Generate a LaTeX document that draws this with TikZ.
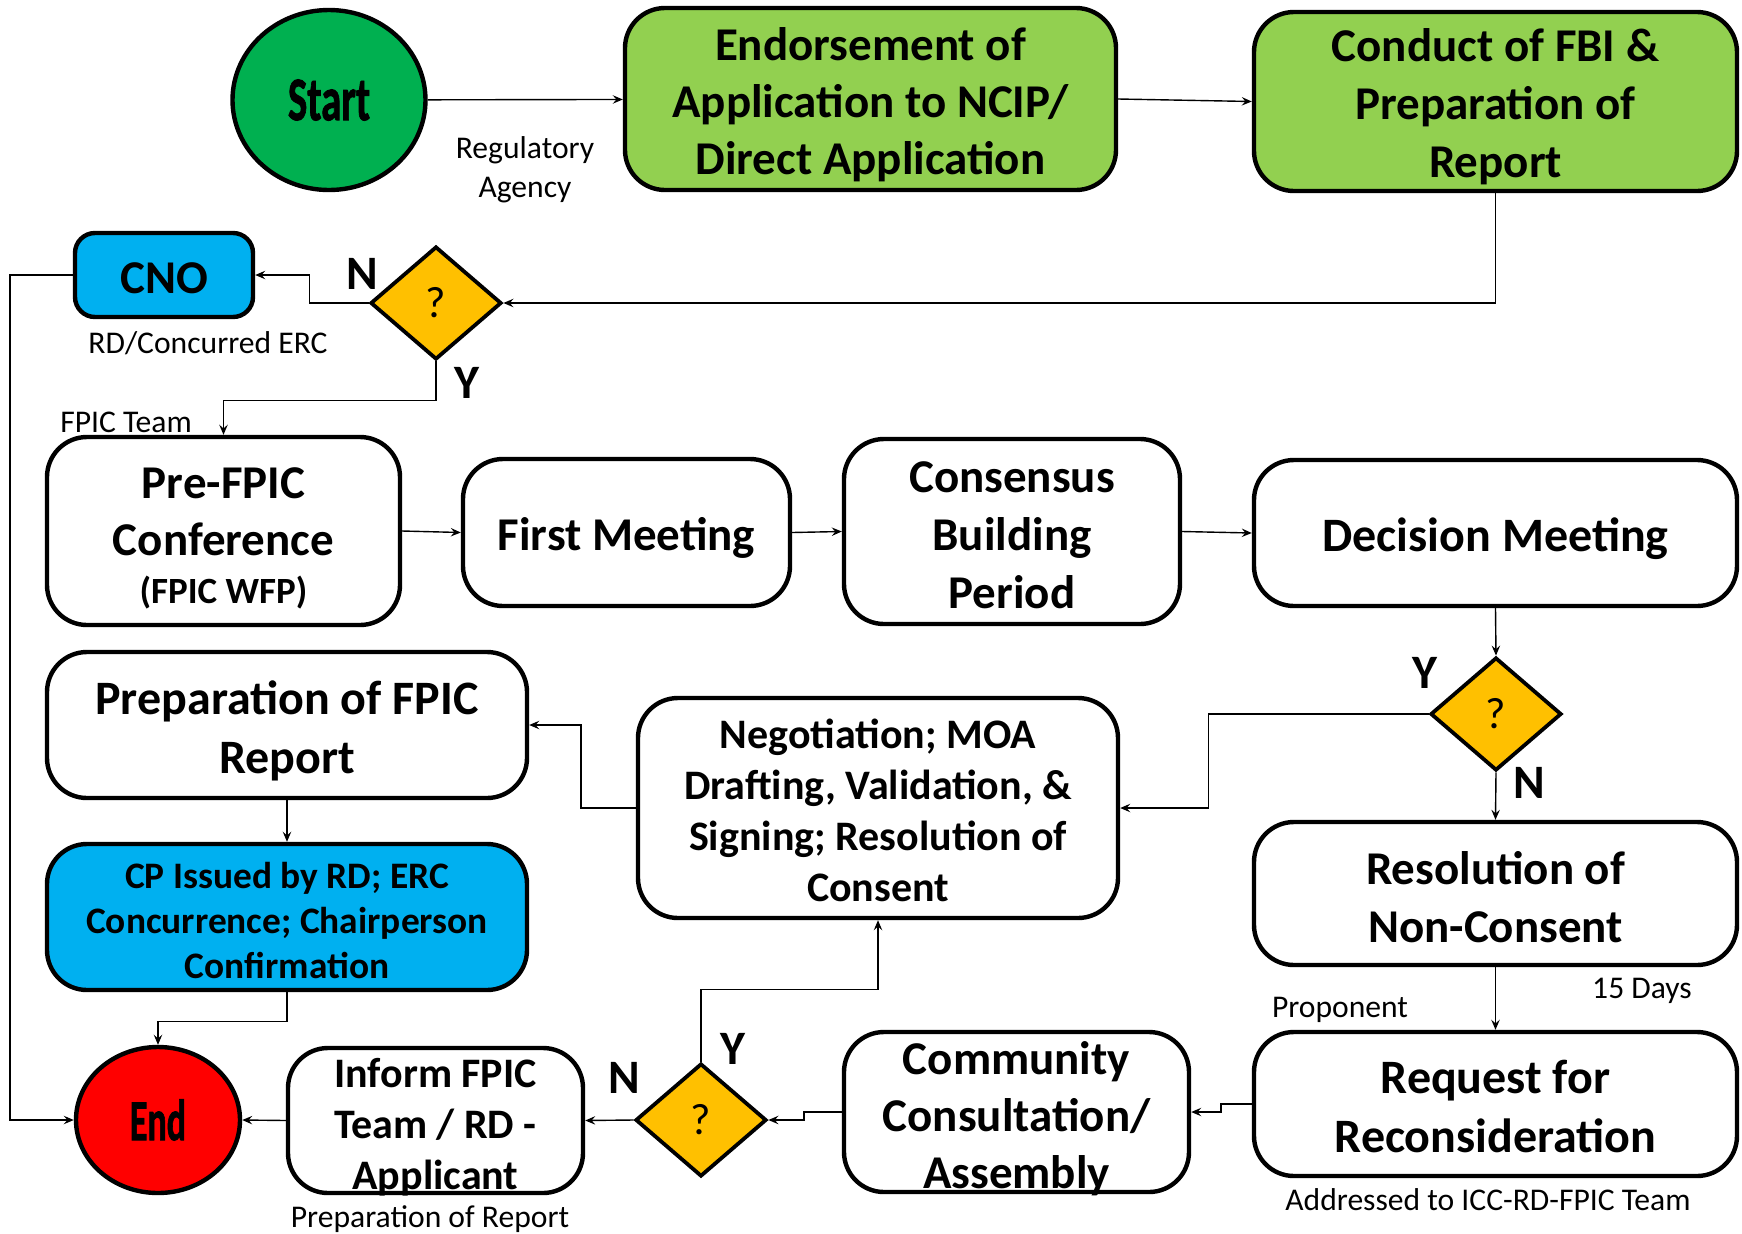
\documentclass[tikz,border=0pt]{standalone}
\usepackage{fontspec}
\setmainfont{Carlito}
\newfontfamily\heavyfont[UprightFont={* Bold}, FakeBold=1.6]{Carlito}
\usetikzlibrary{shapes.geometric,arrows.meta}
\definecolor{startgreen}{HTML}{00B050}
\definecolor{lightgreen}{HTML}{92D050}
\definecolor{cyanblue}{HTML}{00B0F0}
\definecolor{endred}{HTML}{FF0000}
\definecolor{gold}{HTML}{FFC000}
\tikzset{
  box/.style={draw=black, line width=2.2pt, rounded corners=20pt, fill=white, inner sep=0pt},
  boxtext/.style={inner sep=0pt, align=center, font=\bfseries},
  oval/.style={draw=black, line width=2.2pt, ellipse, inner sep=0pt},
  decision/.style={draw=black, line width=1.9pt, diamond, fill=gold, inner sep=0pt, minimum width=65.5pt, minimum height=56.5pt, font=\fontsize{22}{22}\selectfont},
  conn/.style={line width=0.7pt, -{Stealth[length=5pt,width=4.2pt,inset=1.8pt]}},
  note/.style={inner sep=0pt, align=center, font=\fontsize{15.8}{19.5}\selectfont},
  yn/.style={inner sep=0pt, font=\bfseries\fontsize{24}{24}\selectfont},
}
\begin{document}
\begin{tikzpicture}[x=0.5pt, y=-0.5pt]
\useasboundingbox (0,0) rectangle (1742,1233);

% row 1
\node[oval, fill=startgreen, minimum width=96.5pt, minimum height=90pt] (start) at (329,100)
  {\scalebox{0.66}[1]{\heavyfont\fontsize{31}{31}\selectfont Start}};
\node[box, fill=lightgreen, minimum width=245.5pt, minimum height=91pt] (endorse) at (870.5,99) {};
\node[boxtext, font=\bfseries\fontsize{23.5}{28.5}\selectfont] (endorsetext) at (870.5,104.5)
  {Endorsement of\\Application to NCIP/\\Direct Application};
\node[box, fill=lightgreen, minimum width=241.5pt, minimum height=89.5pt] (conduct) at (1495.5,101.5) {};
\node[boxtext, font=\bfseries\fontsize{23.5}{29}\selectfont] (conducttext) at (1495.5,107)
  {Conduct of FBI \&\\Preparation of\\Report};

% row 2
\node[box, fill=cyanblue, rounded corners=10pt, minimum width=89pt, minimum height=42pt] (cno) at (164,275) {};
\node[boxtext, font=\bfseries\fontsize{23.5}{28}\selectfont] (cnotext) at (164,278.3) {CNO};
\node[decision] (d1) at (436,303) {?};

% row 3
\node[box, minimum width=176.5pt, minimum height=94pt] (prefpic) at (223.5,531) {};
\node[boxtext, font=\bfseries\fontsize{23.5}{28.5}\selectfont] (prefpictext) at (223.5,538)
  {Pre-FPIC\\Conference\\[-4.5pt]{\fontsize{18.5}{22}\selectfont (FPIC WFP)}};
\node[box, minimum width=163.5pt, minimum height=73.5pt] (first) at (626.5,532.5) {};
\node[boxtext, font=\bfseries\fontsize{23.5}{28.5}\selectfont] (firsttext) at (626.5,538) {First Meeting};
\node[box, minimum width=168pt, minimum height=92.5pt] (consensus) at (1012,531.5) {};
\node[boxtext, font=\bfseries\fontsize{23.5}{29}\selectfont] (consensustext) at (1012,534.8)
  {Consensus\\Building\\Period};
\node[box, minimum width=241.5pt, minimum height=73pt] (decision) at (1495.5,533) {};
\node[boxtext, font=\bfseries\fontsize{24}{29}\selectfont] (decisiontext) at (1495.5,538.5) {Decision Meeting};

% row 4
\node[box, minimum width=240pt, minimum height=73pt] (prepfpic) at (287,725) {};
\node[boxtext, font=\bfseries\fontsize{24}{29.5}\selectfont] (prepfpictext) at (287,730.5)
  {Preparation of FPIC\\Report};
\node[box, minimum width=240pt, minimum height=110pt] (nego) at (878,808) {};
\node[boxtext, font=\bfseries\fontsize{21}{25.5}\selectfont] (negotext) at (878,810.2)
  {Negotiation; MOA\\Drafting, Validation, \&\\Signing; Resolution of\\Consent};
\node[decision] (d2) at (1496,714) {?};
\node[box, minimum width=241.5pt, minimum height=71.5pt] (resol) at (1495.5,893.5) {};
\node[boxtext, font=\bfseries\fontsize{23.5}{29}\selectfont] (resoltext) at (1495.5,896.8)
  {Resolution of\\Non-Consent};
\node[box, fill=cyanblue, minimum width=240pt, minimum height=73pt] (cp) at (287,917) {};
\node[boxtext, font=\bfseries\fontsize{18.7}{22.5}\selectfont] (cptext) at (287,920.3)
  {CP Issued by RD; ERC\\Concurrence; Chairperson\\Confirmation};

% row 5
\node[box, minimum width=241.5pt, minimum height=72pt] (request) at (1495.5,1104) {};
\node[boxtext, font=\bfseries\fontsize{24}{29.5}\selectfont] (requesttext) at (1495.5,1106.8)
  {Request for\\Reconsideration};
\node[box, minimum width=172.5pt, minimum height=80pt] (community) at (1016.5,1112) {};
\node[boxtext, font=\bfseries\fontsize{23.5}{28.5}\selectfont] (communitytext) at (1016.5,1119)
  {Community\\Consultation/\\Assembly};
\node[decision] (d3) at (701,1120) {?};
\node[box, minimum width=147.5pt, minimum height=72.5pt] (inform) at (435.5,1120.5) {};
\node[boxtext, font=\bfseries\fontsize{21}{25.5}\selectfont] (informtext) at (435.5,1127)
  {Inform FPIC\\Team / RD -\\Applicant};
\node[oval, fill=endred, minimum width=82pt, minimum height=73pt] (endn) at (158,1120)
  {\scalebox{0.62}[1]{\heavyfont\fontsize{29}{29}\selectfont End}};

% connectors
\draw[conn] (start) -- (endorse);
\draw[conn] (endorse.east) -- (conduct.west);
\draw[conn] (conduct.south) |- (d1.east);
\draw[conn] (d1.west) -- ++(-59,0) |- (cno.east);
\draw[conn] (cno.west) -- ++(-63,0) |- (endn.west);
\draw[conn] (d1.south) -- ++(0,39) -| (prefpic.north);
\draw[conn] (prefpic.east) -- (first.west);
\draw[conn] (first.east) -- (consensus.west);
\draw[conn] (consensus.east) -- (decision.west);
\draw[conn] (decision.south) -- (d2.north);
\draw[conn] (d2.west) -- ++(-220,0) |- (nego.east);
\draw[conn] (nego.west) -- ++(-55,0) |- (prepfpic.east);
\draw[conn] (prepfpic.south) -- (cp.north);
\draw[conn] (cp.south) -- ++(0,29) -| (endn.north);
\draw[conn] (d2.south) -- (resol.north);
\draw[conn] (resol.south) -- (request.north);
\draw[conn] (request.west) -- ++(-31,0) |- (community.east);
\draw[conn] (community.west) -- ++(-38,0) |- (d3.east);
\draw[conn] (d3.west) -- (inform.east);
\draw[conn] (inform.west) -- (endn.east);
\draw[conn] (d3.north) -- ++(0,-72) -| (nego.south);

% labels
\node[note] (regag) at (525,170) {Regulatory\\Agency};
\node[note] (rdcon) at (208,343) {RD/Concurred ERC};
\node[note] (fpicteam) at (126,422) {FPIC Team};
\node[yn] (n1) at (362,274) {N};
\node[yn] (y1) at (467,383) {Y};
\node[yn] (y2) at (1425,673) {Y};
\node[yn] (n2) at (1529,783) {N};
\node[note] (days) at (1642,991) {15 Days};
\node[note] (proponent) at (1340,1010) {Proponent};
\node[note] (addressed) at (1488,1200) {Addressed to ICC-RD-FPIC Team};
\node[yn] (y3) at (733,1049) {Y};
\node[yn] (n3) at (624,1078) {N};
\node[note] (prepreport) at (430,1219) {Preparation of Report};
\end{tikzpicture}
\end{document}
